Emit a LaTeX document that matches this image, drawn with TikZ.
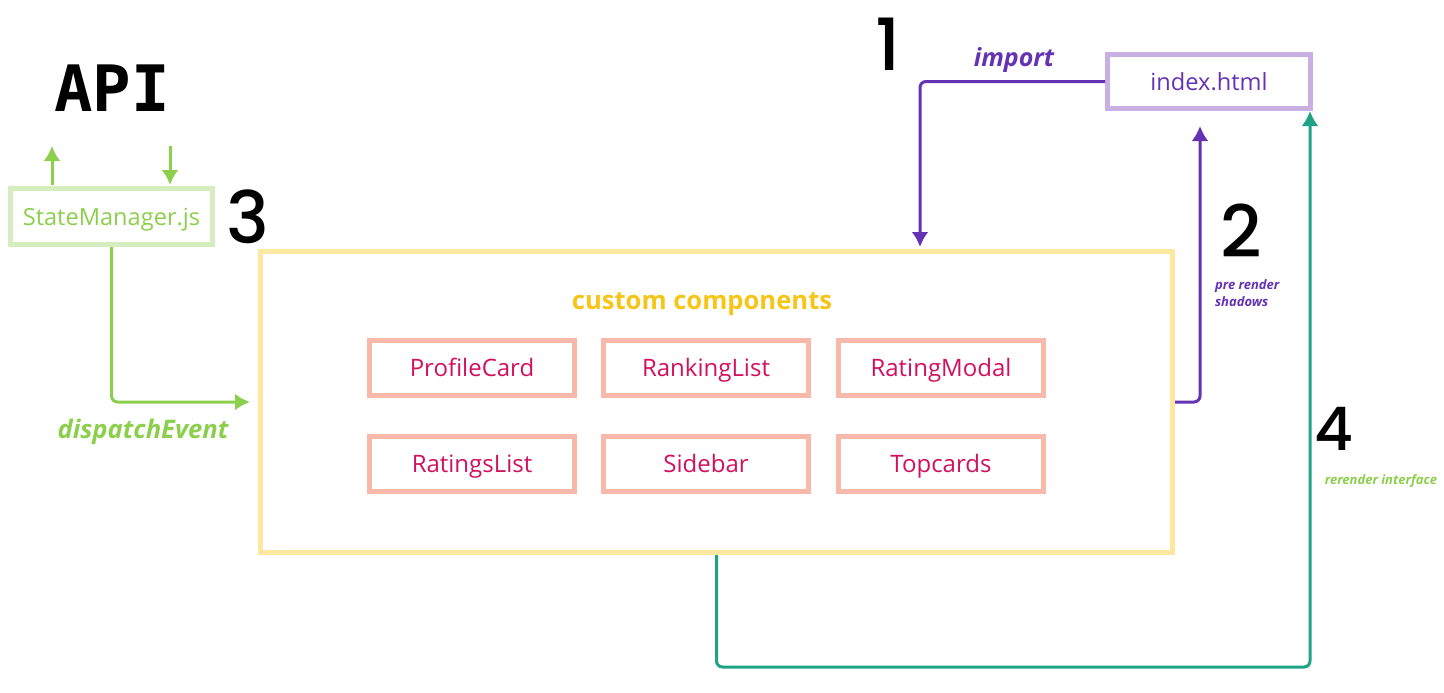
\documentclass[tikz,border=0pt]{standalone}
\usepackage{fontspec}
\setmainfont{Open Sans}
\newfontfamily\numfont{Poppins Medium}
\newfontfamily\apifont{DejaVu Sans Mono}
\usetikzlibrary{arrows.meta}

\definecolor{smline}{HTML}{D6EDC0}
\definecolor{grn}{HTML}{8CCF4D}
\definecolor{yline}{HTML}{FDE8A2}
\definecolor{ytext}{HTML}{F5C518}
\definecolor{pline}{HTML}{F8B8AA}
\definecolor{ptext}{HTML}{D1105F}
\definecolor{lline}{HTML}{C8B0E2}
\definecolor{purp}{HTML}{6532B4}
\definecolor{teal}{HTML}{1FA285}

\tikzset{
  comp/.style={draw=pline, line width=2.5pt, minimum width=102.5pt, minimum height=27.5pt,
    text=ptext, font=\fontsize{12}{14}\selectfont, text height=1.8ex, text depth=.2ex},
  bignum/.style={font=\numfont\fontsize{36}{40}\selectfont},
  lbl/.style={font=\bfseries\itshape\fontsize{12.5}{14}\selectfont},
  wire/.style={line width=1.5pt, rounded corners=3pt, ->, >={Latex[length=7.5pt,width=8.5pt]}}
}

\begin{document}
\begin{tikzpicture}[x=0.5pt,y=-0.5pt]
\useasboundingbox (0,0) rectangle (1444,692);

\node[font=\apifont\bfseries\fontsize{32}{34}\selectfont] (api) at (112,88) {API};
\node[draw=smline, line width=2.5pt, minimum width=101pt, minimum height=28pt, text=grn,
  font=\fontsize{11.8}{13}\selectfont, text height=1.8ex, text depth=.2ex] (sm) at (111.5,216.5) {StateManager.js};
\node[bignum] (n3) at (248,217) {3};

\node[draw=yline, line width=2.5pt, minimum width=456pt, minimum height=150.5pt] (cc) at (716.5,402) {};
\node[text=ytext, font=\bfseries\fontsize{12.8}{15}\selectfont] (cct) at (702,304) {custom components};

\node[comp] (profile) at (472,368) {ProfileCard};
\node[comp] (ranking) at (706,368) {RankingList};
\node[comp] (modal) at (941,368) {RatingModal};
\node[comp] (ratings) at (472,464) {RatingsList};
\node[comp] (sidebar) at (706,464) {Sidebar};
\node[comp] (topcards) at (941,464) {Topcards};

\node[draw=lline, line width=2.5pt, minimum width=101.5pt, minimum height=27pt, text=purp,
  font=\fontsize{11.8}{14}\selectfont, text height=1.8ex, text depth=.2ex] (idx) at (1209,81.5) {index.html};
\node[bignum] (n1) at (888,44) {1};
\node[bignum] (n2) at (1241,231) {2};
\node[bignum, font=\numfont\fontsize{30}{34}\selectfont] (n4) at (1334,429) {4};

% API calls
\coordinate (up1) at (52,185);
\coordinate (up2) at (52,146);
\coordinate (dn1) at (170,146);
\coordinate (dn2) at (170,185);
\draw[wire, grn] (up1) -- (up2);
\draw[wire, grn] (dn1) -- (dn2);

% 1 import
\coordinate (imp) at (920,247);
\draw[wire, purp] (idx.west) -| (imp);
\node[lbl, text=purp] (implbl) at (1014,60) {import};

% 2 pre render
\coordinate (pre) at (1200,126);
\draw[wire, purp] (cc.east) -| (pre);
\node[lbl, text=purp, font=\bfseries\itshape\fontsize{6.5}{8.5}\selectfont, align=left, anchor=north west]
  (prelbl) at (1208,273) {pre render\\shadows};

% 3 dispatchEvent
\draw[wire, grn] (sm.south) |- ([xshift=-4pt]cc.west);
\node[lbl, text=grn, font=\bfseries\itshape\fontsize{12.8}{14}\selectfont] (dlbl) at (143,432) {dispatchEvent};

% 4 rerender
\coordinate (rr) at (1310,667);
\coordinate (rrend) at (1310,111);
\draw[wire, teal] (cc.south) |- (rr) -- (rrend);
\node[lbl, text=grn, font=\bfseries\itshape\fontsize{6.5}{7}\selectfont] (rlbl) at (1381,481) {rerender interface};
\end{tikzpicture}
\end{document}
